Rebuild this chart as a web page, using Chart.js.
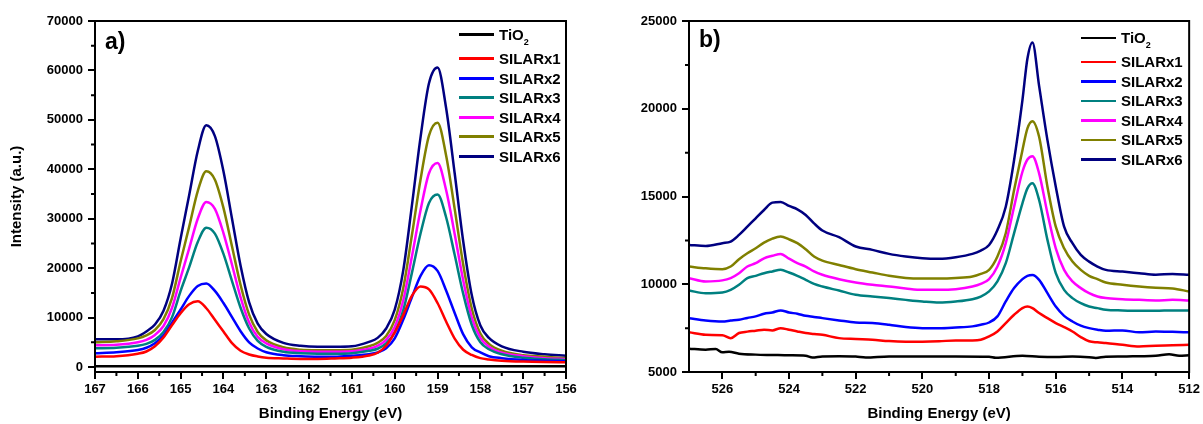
<!DOCTYPE html>
<html>
<head>
<meta charset="utf-8">
<script src="https://cdn.jsdelivr.net/npm/chart.js@4.4.0/dist/chart.umd.min.js"></script>
<style>
  body { margin: 0; background: #fff; }
  #wrap { position: relative; width: 1203px; height: 424px; font-family: "Liberation Sans", Arial, sans-serif; color: #000; }
  .panel { position: absolute; top: 0; }
  .tag { position: absolute; font-weight: bold; font-size: 23px; line-height: 22px; }
  .legend { position: absolute; font-weight: bold; font-size: 15px; }
  .legend .row { display: flex; align-items: center; height: 19.5px; line-height: 19.5px; white-space: nowrap; }
  .legend .row.first { margin-bottom: 4.6px; }
  .legend .swatch { width: 35px; height: 2.5px; margin-right: 5px; }
  #legendA .swatch { height: 3px; }
  .legend sub { font-size: 9px; line-height: 0; vertical-align: -5px; }
</style>
</head>
<body>
<div id="wrap">
  <div class="panel" style="left:0"><canvas id="chartA" width="600" height="424"></canvas></div>
  <div class="panel" style="left:600px"><canvas id="chartB" width="603" height="424"></canvas></div>
  <div class="tag" style="left:105px; top:30px">a)</div>
  <div class="tag" style="left:699px; top:28px">b)</div>
  <div class="legend" id="legendA" style="left:459px; top:25px"></div>
  <div class="legend" id="legendB" style="left:1081px; top:28px"></div>
</div>
<script>
// ---- data: panel a) ----
const seriesNames = ["TiO2", "SILARx1", "SILARx2", "SILARx3", "SILARx4", "SILARx5", "SILARx6"];
const seriesColors = ["#000000", "#ff0000", "#0000ff", "#008080", "#ff00ff", "#808000", "#000080"];

const energyA = [167, 166.5, 166, 165.8, 165.6, 165.4, 165.2, 165.0, 164.8, 164.6, 164.4, 164.2, 164.0, 163.8,
  163.6, 163.4, 163.2, 163.0, 162.6, 162.2, 161.8, 161.4, 161.0, 160.6, 160.4, 160.2, 160.0, 159.8, 159.6,
  159.4, 159.2, 159.0, 158.8, 158.6, 158.4, 158.2, 158.0, 157.8, 157.5, 157.0, 156.5, 156];
const energyTiO2A = [167, 164, 161, 158, 156];
const tio2A = [150, 150, 150, 150, 150];
const silar1A = [2100, 2200, 2700, 3150, 4200, 6000, 8500, 10900, 12700, 13300, 11900, 9550, 7200, 4850, 3300,
  2550, 2150, 1900, 1750, 1650, 1650, 1750, 1900, 2350, 2900, 4300, 7000, 10500, 14400, 16300, 15700, 12950,
  9200, 5750, 3500, 2450, 1800, 1550, 1300, 1100, 1000, 950];
const silar2A = [2800, 3000, 3450, 3900, 4800, 6350, 9000, 11650, 14400, 16400, 16900, 15400, 12950, 10100, 7250,
  5000, 3750, 3000, 2400, 2200, 2100, 2100, 2300, 2600, 2950, 3800, 5800, 9600, 14100, 18400, 20600, 19450,
  15500, 10950, 6600, 4000, 2950, 2200, 1800, 1450, 1300, 1150];
const silar3A = [3800, 3900, 4300, 4700, 5500, 7100, 10100, 15400, 20200, 25300, 28200, 27000, 22900, 17400, 12000,
  7800, 5300, 4100, 3100, 2800, 2700, 2700, 2800, 3300, 3700, 4800, 7000, 11500, 19000, 26900, 33200, 34900,
  30300, 22700, 14800, 8500, 5000, 3600, 2600, 1900, 1600, 1400];
const silar4A = [4400, 4500, 5000, 5500, 6500, 8300, 12000, 18100, 24000, 30000, 33400, 32000, 27100, 20700, 14100,
  9000, 6100, 4800, 3600, 3200, 3100, 3100, 3200, 3700, 4300, 5500, 8100, 13500, 22300, 31600, 39200, 41300,
  35800, 26900, 17500, 10000, 5900, 4100, 2900, 2200, 1800, 1600];
const silar5A = [5000, 5200, 5800, 6400, 7500, 9700, 14000, 21400, 28400, 35600, 39600, 37900, 32200, 24400, 16600,
  10600, 7100, 5400, 4000, 3500, 3400, 3400, 3500, 4200, 4900, 6300, 9500, 16000, 26600, 37800, 46800, 49400,
  42800, 32000, 20700, 11800, 6800, 4700, 3300, 2400, 2100, 1800];
const silar6A = [5600, 5600, 6200, 7200, 8600, 11400, 16900, 26000, 34800, 43700, 48900, 46700, 39600, 30000, 20500,
  13100, 8800, 6700, 4900, 4300, 4100, 4100, 4200, 5100, 5900, 7800, 11600, 19600, 32600, 46300, 57400, 60600,
  52400, 39200, 25400, 14500, 8400, 5900, 4200, 3100, 2600, 2300];
const xTicksA = [167, 166, 165, 164, 163, 162, 161, 160, 159, 158, 157, 156];
const yTicksA = [0, 10000, 20000, 30000, 40000, 50000, 60000, 70000];

// ---- data: panel b) ----
const energyB = [527, 526.5, 526, 525.75, 525.5, 525.25, 525, 524.75, 524.5, 524.25, 524, 523.75, 523.5, 523.25,
  523, 522.5, 522, 521.5, 521, 520.5, 520, 519.5, 519, 518.5, 518.25, 518, 517.75, 517.5, 517.25, 517, 516.85,
  516.7, 516.5, 516.25, 516, 515.75, 515.5, 515.25, 515, 514.75, 514.5, 514, 513.5, 513, 512.5, 512];
const energyTiO2B = [527, 526.5, 526.2, 526, 525.8, 525.5, 525, 524.5, 524, 523.5, 523.3, 523, 522.5, 522, 521.7,
  521, 520, 519, 518, 517.8, 517, 516.5, 516, 515.5, 515, 514.8, 514.5, 514, 513.5, 513, 512.6, 512.3, 512];
const tio2B = [6330, 6270, 6310, 6120, 6150, 6040, 5990, 5970, 5950, 5930, 5830, 5890, 5900, 5880, 5830,
  5890, 5880, 5890, 5870, 5810, 5930, 5870, 5850, 5880, 5840, 5800, 5870, 5880, 5900, 5920, 6010, 5930, 5950];
const silar1B = [7260, 7120, 7100, 6930, 7220, 7300, 7350, 7410, 7370, 7500, 7410, 7310, 7220, 7170, 7120, 6930,
  6880, 6840, 6760, 6730, 6730, 6750, 6800, 6800, 6840, 7030, 7310, 7790, 8260, 8640, 8730, 8640, 8360, 8070,
  7790, 7560, 7310, 6990, 6750, 6690, 6650, 6550, 6460, 6500, 6520, 6550];
const silar2B = [8070, 7940, 7880, 7930, 7980, 8080, 8170, 8320, 8390, 8510, 8390, 8320, 8200, 8140, 8070, 7940,
  7820, 7790, 7690, 7560, 7500, 7500, 7540, 7600, 7690, 7820, 8170, 9020, 9780, 10290, 10480, 10530, 10250, 9490,
  8730, 8200, 7880, 7640, 7500, 7410, 7350, 7370, 7260, 7310, 7290, 7260];
const silar3B = [9640, 9490, 9530, 9680, 9970, 10350, 10480, 10630, 10730, 10820, 10670, 10480, 10250, 10020, 9870,
  9640, 9400, 9300, 9210, 9110, 9020, 8960, 9020, 9150, 9300, 9590, 10160, 11200, 12910, 14610, 15460, 15750,
  14800, 12530, 10630, 9680, 9210, 8920, 8730, 8640, 8550, 8510, 8490, 8490, 8510, 8510];
const silar4B = [10350, 10160, 10220, 10350, 10630, 11010, 11200, 11480, 11620, 11730, 11460, 11200, 11010, 10730,
  10540, 10290, 10100, 9970, 9870, 9760, 9680, 9680, 9720, 9870, 10020, 10290, 11010, 12340, 14420, 16410, 17110,
  17300, 16320, 14050, 12050, 10820, 10160, 9780, 9490, 9300, 9210, 9150, 9110, 9080, 9110, 9080];
const silar5B = [11010, 10910, 10860, 11010, 11430, 11770, 12050, 12370, 12600, 12720, 12560, 12340, 11990, 11580,
  11350, 11100, 10860, 10670, 10480, 10360, 10330, 10330, 10360, 10440, 10590, 10820, 11580, 12910, 15370, 17640,
  18880, 19290, 18400, 15560, 13280, 12050, 11290, 10820, 10480, 10290, 10100, 9970, 9870, 9800, 9760, 9590];
const silar6B = [12240, 12180, 12340, 12430, 12810, 13280, 13760, 14230, 14650, 14690, 14460, 14270, 13950, 13470,
  13060, 12680, 12150, 11960, 11730, 11580, 11480, 11450, 11540, 11730, 11920, 12240, 13090, 14420, 17080, 20490,
  22860, 23780, 21300, 18210, 15560, 13280, 12340, 11670, 11290, 11010, 10820, 10720, 10630, 10540, 10590, 10540];
const xTicksB = [526, 524, 522, 520, 518, 516, 514, 512];
const yTicksB = [5000, 10000, 15000, 20000, 25000];

const tickFont = { family: "'Liberation Sans', Arial, sans-serif", size: 13, weight: "bold" };
const titleFont = { family: "'Liberation Sans', Arial, sans-serif", size: 15, weight: "bold" };

// box frame + minor ticks halfway between the major ones
const framePlugin = {
    id: "frame",
    afterDraw(chart) {
        const { ctx, chartArea: a, scales } = chart;
        ctx.save();
        ctx.strokeStyle = "#000";
        ctx.lineWidth = 2;
        ctx.strokeRect(a.left, a.top, a.right - a.left, a.bottom - a.top);
        ctx.beginPath();
        const minor = (scale, horiz) => {
            const t = scale.ticks.map(k => k.value);
            for (let i = 0; i < t.length - 1; i++) {
                const p = scale.getPixelForValue((t[i] + t[i + 1]) / 2);
                if (horiz) { ctx.moveTo(p, a.bottom); ctx.lineTo(p, a.bottom + 4); }
                else { ctx.moveTo(a.left, p); ctx.lineTo(a.left - 4, p); }
            }
        };
        minor(scales.x, true);
        minor(scales.y, false);
        ctx.stroke();
        ctx.restore();
    }
};

function makeSet(i, xs, ys) {
    return {
        label: seriesNames[i],
        data: xs.map((x, k) => ({ x: x, y: ys[k] })),
        borderColor: seriesColors[i],
        backgroundColor: seriesColors[i],
        borderWidth: 2.5,
        pointRadius: 0,
        fill: false,
        cubicInterpolationMode: "monotone"
    };
}

function makeChart(id, datasets, cfg) {
    return new Chart(document.getElementById(id), {
        type: "line",
        data: { datasets: datasets },
        options: {
            responsive: false,
            animation: false,
            devicePixelRatio: 1,
            layout: { padding: { left: 0, right: cfg.padRight, top: 21, bottom: 0 } },
            plugins: { legend: { display: false }, tooltip: { enabled: false } },
            scales: {
                x: {
                    type: "linear",
                    reverse: true,
                    min: cfg.xMin,
                    max: cfg.xMax,
                    afterBuildTicks: s => { s.ticks = cfg.xTicks.map(v => ({ value: v })); },
                    afterFit: s => { s.height = 52; },
                    ticks: { font: tickFont, color: "#000", padding: 3, maxRotation: 0, autoSkip: false,
                        callback: v => String(v) },
                    grid: { drawOnChartArea: false, drawTicks: true, tickLength: 7, color: "#000", lineWidth: 2 },
                    border: { display: true, color: "#000", width: 2 },
                    title: { display: true, text: "Binding Energy (eV)", font: titleFont, color: "#000",
                        padding: { top: 0, bottom: 1 } }
                },
                y: {
                    type: "linear",
                    min: cfg.yMin,
                    max: cfg.yMax,
                    afterBuildTicks: s => { s.ticks = cfg.yTicks.map(v => ({ value: v })); },
                    afterFit: s => { s.width = cfg.yWidth; },
                    ticks: { font: tickFont, color: "#000", padding: 5, autoSkip: false, callback: v => String(v) },
                    grid: { drawOnChartArea: false, drawTicks: true, tickLength: 7, color: "#000", lineWidth: 2 },
                    border: { display: true, color: "#000", width: 2 },
                    title: { display: cfg.yTitle !== "", text: cfg.yTitle, font: titleFont, color: "#000",
                        padding: { top: 8, bottom: 0 } }
                }
            }
        },
        plugins: [framePlugin]
    });
}

function buildLegend(el, chart) {
    chart.data.datasets.forEach((ds, i) => {
        const row = document.createElement("div");
        row.className = "row" + (i === 0 ? " first" : "");
        const sw = document.createElement("span");
        sw.className = "swatch";
        sw.style.background = ds.borderColor;
        const txt = document.createElement("span");
        txt.innerHTML = ds.label.replace(/O2$/, "O<sub>2</sub>");
        row.appendChild(sw);
        row.appendChild(txt);
        el.appendChild(row);
    });
}

const setsA = [
    makeSet(0, energyTiO2A, tio2A),
    makeSet(1, energyA, silar1A),
    makeSet(2, energyA, silar2A),
    makeSet(3, energyA, silar3A),
    makeSet(4, energyA, silar4A),
    makeSet(5, energyA, silar5A),
    makeSet(6, energyA, silar6A)
];
const setsB = [
    makeSet(0, energyTiO2B, tio2B),
    makeSet(1, energyB, silar1B),
    makeSet(2, energyB, silar2B),
    makeSet(3, energyB, silar3B),
    makeSet(4, energyB, silar4B),
    makeSet(5, energyB, silar5B),
    makeSet(6, energyB, silar6B)
];

const chartA = makeChart("chartA", setsA, {
    xMin: 156, xMax: 167, xTicks: xTicksA, yMin: -1000, yMax: 70000, yTicks: yTicksA,
    yWidth: 95, padRight: 34, yTitle: "Intensity (a.u.)"
});
const chartB = makeChart("chartB", setsB, {
    xMin: 512, xMax: 527, xTicks: xTicksB, yMin: 5000, yMax: 25000, yTicks: yTicksB,
    yWidth: 89, padRight: 12, yTitle: ""
});

buildLegend(document.getElementById("legendA"), chartA);
buildLegend(document.getElementById("legendB"), chartB);
</script>
</body>
</html>
